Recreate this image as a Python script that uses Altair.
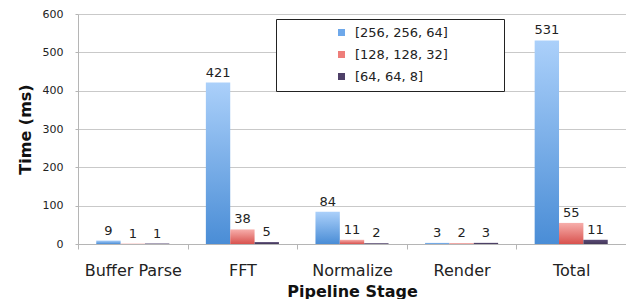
import altair as alt
import pandas as pd

stages = ["Buffer Parse", "FFT", "Normalize", "Render", "Total"]
series = ["[256, 256, 64]", "[128, 128, 32]", "[64, 64, 8]"]
vals_256 = [9, 421, 84, 3, 531]
vals_128 = [1, 38, 11, 2, 55]
vals_64 = [1, 5, 2, 3, 11]

legend_colors = ["#6ea8ea", "#ee7e7a", "#4e4068"]
grad_stops = [
    ("#abd0fa", "#4a8dd6"),
    ("#f7aeab", "#d8524e"),
    ("#5a4b76", "#433759"),
]

rows = []
for s, vals in zip(series, [vals_256, vals_128, vals_64]):
    for st, v in zip(stages, vals):
        rows.append({"stage": st, "series": s, "time": v})
df = pd.DataFrame(rows)

FONT = "DejaVu Sans"

x_enc = alt.X(
    "stage:N",
    sort=stages,
    scale=alt.Scale(paddingInner=0, paddingOuter=0),
    axis=alt.Axis(
        title="Pipeline Stage",
        labelAngle=0,
        tickBand="extent",
        tickSize=5,
        labelPadding=13,
        labelFontSize=16,
        titleFontSize=16,
        titleFontWeight="bold",
        titlePadding=5,
        grid=False,
    ),
)
xoff_enc = alt.XOffset(
    "series:N", sort=series, scale=alt.Scale(domain=series, paddingOuter=0.75, paddingInner=0)
)
y_enc = alt.Y(
    "time:Q",
    scale=alt.Scale(domain=[0, 600], nice=False),
    axis=alt.Axis(
        title="Time (ms)",
        values=[0, 100, 200, 300, 400, 500, 600],
        tickSize=3,
        labelPadding=12,
        labelFontSize=11,
        titleFontSize=16,
        titleFontWeight="bold",
        titlePadding=9,
    ),
)

base = alt.Chart(df)

layers = []
for s, (top, bot) in zip(series, grad_stops):
    layers.append(
        base.transform_filter(alt.datum.series == s)
        .mark_bar(
            color=alt.Gradient(
                gradient="linear",
                stops=[
                    alt.GradientStop(color=top, offset=0),
                    alt.GradientStop(color=bot, offset=1),
                ],
                x1=0, x2=0, y1=0, y2=1,
            )
        )
        .encode(x=x_enc, xOffset=xoff_enc, y=y_enc)
    )

legend_layer = (
    base.transform_filter("false")
    .mark_square()
    .encode(
        color=alt.Color(
            "series:N",
            scale=alt.Scale(domain=series, range=legend_colors),
            legend=alt.Legend(
                title="\u00a0",
                titleOrient="right",
                titlePadding=49,
                titleFontSize=4,
                orient="none",
                legendX=198,
                legendY=5,
                symbolType="square",
                symbolSize=49,
                symbolOpacity=1,
                symbolStrokeWidth=0,
                labelFontSize=13,
                labelFont=FONT,
                labelColor="#222222",
                rowPadding=8,
                padding=7,
                symbolOffset=52,
                strokeColor="#222222",
                fillColor="white",
                labelOffset=7,
            ),
        )
    )
)

labels = base.mark_text(dy=-10, fontSize=13, font=FONT, color="#222222").encode(
    x=x_enc, xOffset=xoff_enc, y=y_enc, text="time:Q"
)

chart = (
    alt.layer(*layers, labels, legend_layer)
    .properties(
        width=548,
        height=230,
        autosize=alt.AutoSizeParams(type="none"),
        padding={"left": 70, "top": 6, "right": 0, "bottom": 55},
    )
    .configure_axis(
        labelFont=FONT,
        titleFont=FONT,
        labelColor="#222222",
        titleColor="#111111",
        domainColor="#b5b5b5",
        tickColor="#b5b5b5",
        gridColor="#c9c9c9",
    )
    .configure_view(stroke=None)
)

chart.save("out.html", embed_options={"renderer": "svg", "actions": False})
